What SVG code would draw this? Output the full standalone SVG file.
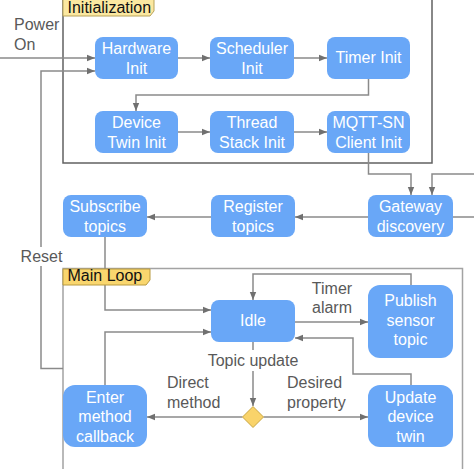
<svg xmlns="http://www.w3.org/2000/svg" width="474" height="469" viewBox="0 0 474 469">
<style>
.node rect{fill:#69a7f7;}
.node text{fill:#ffffff;font-family:"Liberation Sans",Arial,sans-serif;font-size:16px;text-anchor:middle;}
.lbl{fill:#595959;font-family:"Liberation Sans",Arial,sans-serif;font-size:16px;}
.ttl{fill:#111111;font-family:"Liberation Sans",Arial,sans-serif;font-size:16px;}
.conn path{fill:none;stroke:#8a8a8a;stroke-width:1.5;}
.arr{marker-end:url(#ah);}
</style>
<defs>
<marker id="ah" viewBox="0 0 10 10" refX="10" refY="5" markerWidth="8" markerHeight="8" markerUnits="userSpaceOnUse" orient="auto">
<path d="M0,1 L10,5 L0,9 Z" fill="#707070"/>
</marker>
</defs>
<rect width="474" height="469" fill="#ffffff"/>
<!-- frames -->
<g id="frame-init">
<path d="M63,-2 V163 H432 V-2" fill="none" stroke="#626262" stroke-width="1.5"/>
</g>
<g id="frame-main">
<path d="M63,471 V268.5 H462.5 V471" fill="none" stroke="#a3a3a3" stroke-width="1.5"/>
</g>
<!-- connectors -->
<g class="conn" id="connectors">
<path class="arr" d="M0,58 H95"/>
<path class="arr" d="M63,368.5 H41 V71 H95"/>
<path class="arr" d="M178,58 H210"/>
<path class="arr" d="M294,58 H327"/>
<path class="arr" d="M368.5,79 V95 H136 V111"/>
<path class="arr" d="M178,132 H210"/>
<path class="arr" d="M294,132 H327"/>
<path class="arr" d="M368.5,153 V174 H411 V195"/>
<path class="arr" d="M474,174 H432 V195"/>
<path d="M453,217 H474"/>
<path class="arr" d="M368,217 H295"/>
<path class="arr" d="M211,217 H147"/>
<path class="arr" d="M105,237 V310 H211"/>
<path class="arr" d="M295,322 H368"/>
<path class="arr" d="M411,285 V274 H253 V300"/>
<path class="arr" d="M253,342 V406"/>
<path class="arr" d="M242.5,417 H147"/>
<path class="arr" d="M263.5,417 H368"/>
<path class="arr" d="M105,385 V332 H211"/>
<path class="arr" d="M411,385 V374 H353 V338 H295"/>
</g>
<!-- connector labels -->
<g id="labels">
<rect x="18" y="247" width="46" height="19" fill="#ffffff"/>
<text class="lbl" x="41.5" y="262" text-anchor="middle">Reset</text>
<text class="lbl" x="14" y="30">Power</text>
<text class="lbl" x="14" y="49.5">On</text>
<text class="lbl" x="332" y="293.5" text-anchor="middle">Timer</text>
<text class="lbl" x="332" y="313" text-anchor="middle">alarm</text>
<rect x="205" y="350" width="96" height="21" fill="#ffffff"/>
<text class="lbl" x="253" y="366" text-anchor="middle">Topic update</text>
<text class="lbl" x="167" y="388">Direct</text>
<text class="lbl" x="167" y="407.5">method</text>
<text class="lbl" x="287" y="388">Desired</text>
<text class="lbl" x="287" y="407.5">property</text>
</g>
<!-- frame titles -->
<g id="title-init">
<path d="M63,-2 H154 V11 L150,16 H63 Z" fill="#fbe8a0" stroke="#b8a35a" stroke-width="1"/>
<text class="ttl" x="67.5" y="13">Initialization</text>
</g>
<g id="title-main">
<path d="M63,269 H150 V280 L146,285 H63 Z" fill="#f9d66e" stroke="#b89a40" stroke-width="1"/>
<text class="ttl" x="67.5" y="281">Main Loop</text>
</g>
<!-- nodes -->
<g class="node" id="hardware-init"><rect x="95" y="37" width="83" height="42" rx="8"/><text x="136.5" y="54">Hardware</text><text x="136.5" y="74">Init</text></g>
<g class="node" id="scheduler-init"><rect x="210" y="37" width="84" height="42" rx="8"/><text x="252" y="54">Scheduler</text><text x="252" y="74">Init</text></g>
<g class="node" id="timer-init"><rect x="327" y="37" width="83" height="42" rx="8"/><text x="368.5" y="62.5">Timer Init</text></g>
<g class="node" id="device-twin-init"><rect x="95" y="111" width="83" height="42" rx="8"/><text x="136.5" y="128">Device</text><text x="136.5" y="148">Twin Init</text></g>
<g class="node" id="thread-stack-init"><rect x="210" y="111" width="84" height="42" rx="8"/><text x="252" y="128">Thread</text><text x="252" y="148">Stack Init</text></g>
<g class="node" id="mqtt-sn-client-init"><rect x="327" y="111" width="83" height="42" rx="8"/><text x="368.5" y="128">MQTT-SN</text><text x="368.5" y="148">Client Init</text></g>
<g class="node" id="gateway-discovery"><rect x="368" y="195" width="85" height="42" rx="8"/><text x="410.5" y="212">Gateway</text><text x="410.5" y="232">discovery</text></g>
<g class="node" id="register-topics"><rect x="211" y="195" width="84" height="42" rx="8"/><text x="253" y="212">Register</text><text x="253" y="232">topics</text></g>
<g class="node" id="subscribe-topics"><rect x="63" y="195" width="84" height="42" rx="8"/><text x="105" y="212">Subscribe</text><text x="105" y="232">topics</text></g>
<g class="node" id="idle"><rect x="211" y="300" width="84" height="42" rx="8"/><text x="253" y="325.5">Idle</text></g>
<g class="node" id="publish-sensor-topic"><rect x="368" y="285" width="85" height="73" rx="12"/><text x="410.5" y="306">Publish</text><text x="410.5" y="325.5">sensor</text><text x="410.5" y="345">topic</text></g>
<g class="node" id="enter-method-callback"><rect x="63" y="385" width="84" height="62" rx="12"/><text x="105" y="402.5">Enter</text><text x="105" y="422">method</text><text x="105" y="441.5">callback</text></g>
<g class="node" id="update-device-twin"><rect x="368" y="385" width="85" height="62" rx="12"/><text x="410.5" y="402.5">Update</text><text x="410.5" y="422">device</text><text x="410.5" y="441.5">twin</text></g>
<g id="decision"><path d="M253,406.5 L263.5,417 L253,427.5 L242.5,417 Z" fill="#f9d36a" stroke="#c9a640" stroke-width="1"/></g>
</svg>
